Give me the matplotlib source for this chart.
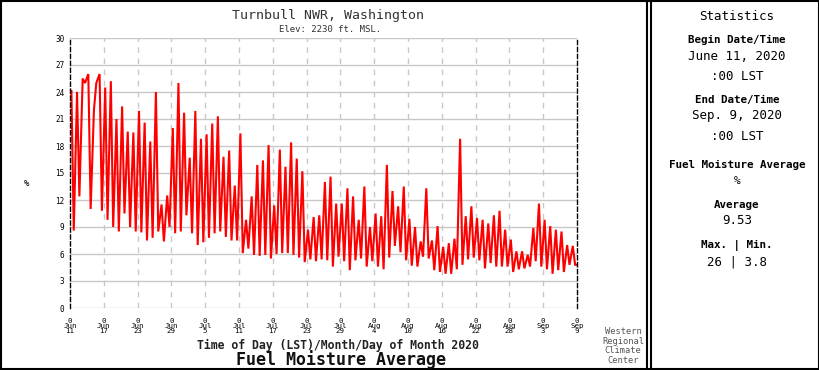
import matplotlib
matplotlib.use("Agg")
import matplotlib.pyplot as plt
from matplotlib.lines import Line2D

# ---------------- data ----------------
start_value = 24.0
end_value = 4.8
# value near the morning high (about 06 LST) of each day, Jun 11 .. Sep 8
peak_values = [
    24.2, 24.0, 25.5, 26.0, 22.0, 26.0, 24.5, 25.2, 21.0, 22.4,
    19.6, 19.5, 21.9, 20.6, 18.5, 24.0, 11.5, 12.5, 20.0, 25.0,
    21.7, 16.7, 21.9, 18.8, 19.3, 20.5, 21.3, 16.8, 17.5, 13.6,
    19.4, 9.8, 12.4, 15.9, 16.4, 18.1, 11.4, 17.6, 15.7, 18.4,
    16.6, 15.2, 8.7, 10.1, 10.3, 14.0, 14.6, 11.6, 11.6, 13.3,
    12.4, 9.8, 13.5, 9.0, 10.5, 10.2, 15.9, 13.0, 11.3, 13.5,
    9.9, 9.0, 7.4, 13.3, 7.5, 9.1, 6.8, 7.2, 7.7, 18.8,
    10.2, 11.3, 10.0, 9.8, 9.4, 10.3, 10.8, 8.7, 7.6, 6.3,
    6.3, 5.9, 8.9, 11.6, 9.8, 9.1, 8.7, 8.5, 7.0, 6.9,
]
# value near the afternoon low (about 16 LST) of each day
trough_values = [
    8.6, 12.4, 25.0, 11.0, 25.0, 10.8, 9.8, 9.0, 8.5, 10.5,
    9.0, 8.5, 8.4, 7.5, 7.8, 8.5, 7.4, 9.0, 8.3, 8.5,
    10.3, 8.3, 7.0, 7.3, 7.8, 8.3, 8.5, 7.9, 7.5, 7.5,
    6.1, 6.6, 5.9, 5.8, 5.9, 5.5, 6.0, 6.1, 6.1, 5.9,
    5.6, 5.1, 5.4, 5.2, 5.4, 5.3, 4.6, 5.7, 5.2, 4.2,
    5.3, 5.5, 4.6, 5.2, 4.6, 4.3, 5.6, 6.9, 6.2, 5.3,
    4.7, 4.6, 5.7, 5.5, 4.2, 4.0, 3.8, 3.8, 4.3, 4.8,
    5.4, 5.6, 5.3, 4.4, 5.0, 4.6, 4.6, 4.6, 4.0, 4.3,
    4.4, 4.6, 5.2, 4.6, 4.3, 3.8, 4.2, 4.0, 4.8, 4.8,
]
peak_hour = 6
trough_hour = 16

tick_days = [0, 6, 12, 18, 24, 30, 36, 42, 48, 54, 60, 66, 72, 78, 84, 90]
tick_labels = ["Jun\n11", "Jun\n17", "Jun\n23", "Jun\n29", "Jul\n5", "Jul\n11",
               "Jul\n17", "Jul\n23", "Jul\n29", "Aug\n4", "Aug\n10", "Aug\n16",
               "Aug\n22", "Aug\n28", "Sep\n3", "Sep\n9"]
y_ticks = [0, 3, 6, 9, 12, 15, 18, 21, 24, 27, 30]

# ---------------- build series ----------------
xs = [0.0]
ys = [start_value]
for d, (p, t) in enumerate(zip(peak_values, trough_values)):
    xs += [d + peak_hour / 24.0, d + trough_hour / 24.0]
    ys += [p, t]
xs.append(float(len(peak_values)))
ys.append(end_value)

MONO = "DejaVu Sans Mono"
W, H = 820, 370
fig = plt.figure(figsize=(W / 100, H / 100), dpi=100)
fig.patch.set_facecolor("white")


def fx(px):
    return px / W


def fy(py):
    return 1 - py / H


ax = fig.add_axes([fx(70), fy(308), fx(577) - fx(70), fy(38) - fy(308)])
ax.plot(xs, ys, color="#ff0000", linewidth=1.5, solid_joinstyle="miter")
ax.set_xlim(0, 90)
ax.set_ylim(0, 30)
ax.set_yticks(y_ticks)
ax.set_yticklabels([str(v) for v in y_ticks], fontsize=5.5, family=MONO)
ax.set_xticks(tick_days)
ax.set_xticklabels(["0\n" + t for t in tick_labels], fontsize=5.3, family=MONO,
                   linespacing=0.85)
ax.tick_params(axis="y", length=0, pad=4)
ax.tick_params(axis="x", length=0, pad=7)
for v in y_ticks:
    ax.axhline(v, color="#c8c8c8", linewidth=1.0, zorder=0)
for d in tick_days[1:-1]:
    ax.axvline(d, color="#c8c8c8", linewidth=1.0, linestyle=(0, (4, 4)), zorder=0)
for s in ["top", "bottom"]:
    ax.spines[s].set_visible(False)
for s in ["left", "right"]:
    ax.spines[s].set_color("black")
    ax.spines[s].set_linewidth(1.0)
    ax.spines[s].set_linestyle((0, (3, 2)))

# texts
fig.text(fx(328), fy(16), "Turnbull NWR, Washington", ha="center", va="center",
         fontsize=9.5, family=MONO, color="#333333")
fig.text(fx(330), fy(29), "Elev: 2230 ft. MSL.", ha="center", va="center",
         fontsize=6.5, family=MONO, color="#333333")
fig.text(fx(27), fy(183), "%", ha="center", va="center", fontsize=6.5,
         family=MONO, color="black")
fig.text(fx(338), fy(345), "Time of Day (LST)/Month/Day of Month 2020", ha="center",
         va="center", fontsize=8.3, family=MONO, fontweight="bold", color="#222222")
fig.text(fx(341), fy(360), "Fuel Moisture Average", ha="center", va="center",
         fontsize=12, family=MONO, fontweight="bold", color="#111111")
fig.text(fx(623), fy(346), "Western\nRegional\nClimate\nCenter", ha="center",
         va="center", fontsize=6.3, family=MONO, color="#555555", linespacing=1.1)

# statistics panel
cx = fx(737)
stats = [
    (17, "Statistics", 9.0, "normal"),
    (40, "Begin Date/Time", 7.8, "bold"),
    (57, "June 11, 2020", 9.0, "normal"),
    (77, ":00 LST", 9.0, "normal"),
    (100, "End Date/Time", 7.8, "bold"),
    (116, "Sep. 9, 2020", 9.0, "normal"),
    (136, ":00 LST", 9.0, "normal"),
    (165, "Fuel Moisture Average", 7.8, "bold"),
    (181, "%", 8.0, "normal"),
    (205, "Average", 7.8, "bold"),
    (221, "9.53", 9.0, "normal"),
    (245, "Max. | Min.", 7.8, "bold"),
    (262, "26 | 3.8", 9.0, "normal"),
]
for py, txt, size, weight in stats:
    fig.text(cx, fy(py), txt, ha="center", va="center", fontsize=size,
             family=MONO, fontweight=weight, color="black")

# borders
def pline(x0, y0, x1, y1, lw=1.5):
    fig.add_artist(Line2D([fx(x0), fx(x1)], [fy(y0), fy(y1)], color="black",
                          linewidth=lw, transform=fig.transFigure))

pline(1, 1, 819, 1)
pline(1, 369, 819, 369)
pline(1, 1, 1, 369)
pline(819, 1, 819, 369)
pline(647.5, 1, 647.5, 369)
pline(651.5, 1, 651.5, 369)

fig.savefig("out.png", dpi=100)
